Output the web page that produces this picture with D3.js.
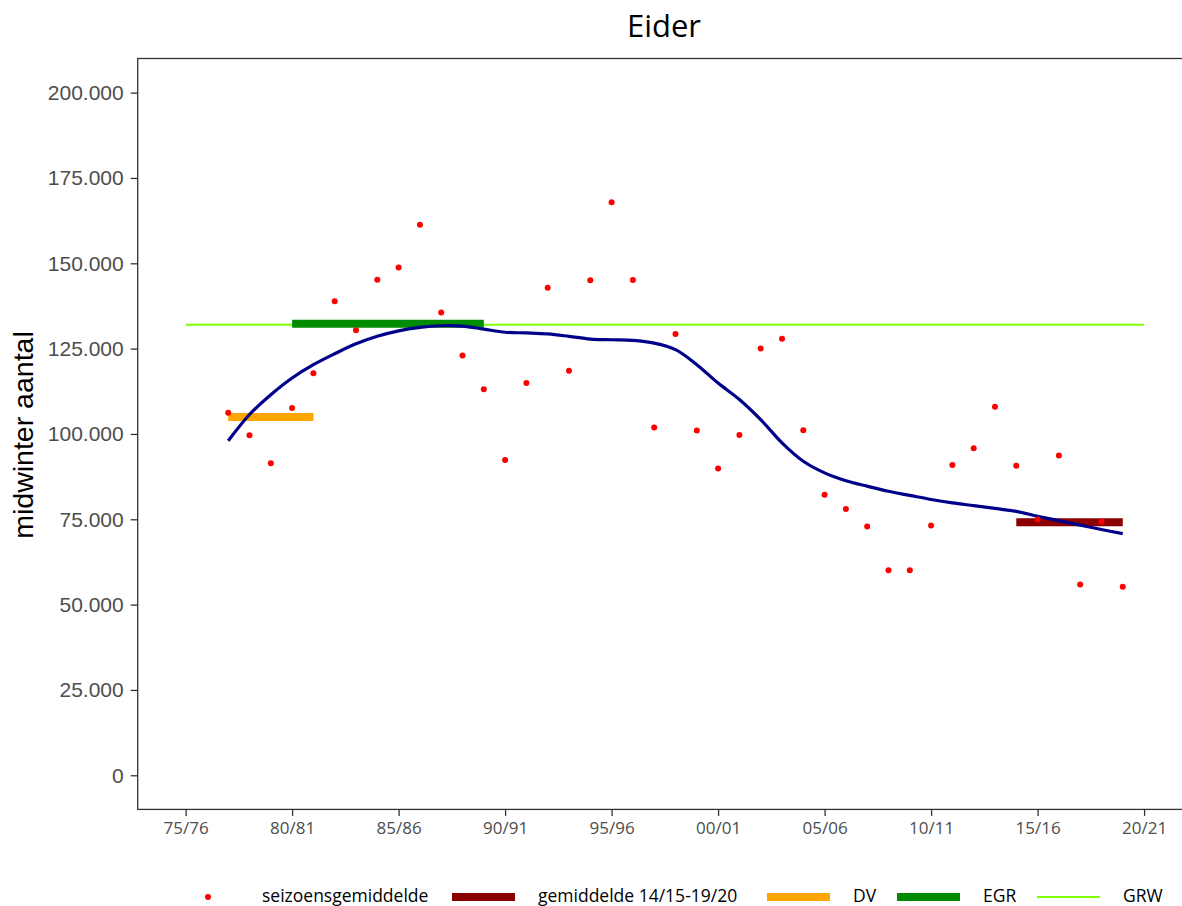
<!DOCTYPE html>
<html>
<head>
<meta charset="utf-8">
<script src="https://cdn.jsdelivr.net/npm/d3@7/dist/d3.min.js"></script>
<style>
  html, body { margin: 0; padding: 0; background: #fff; }
  svg { display: block; }
</style>
</head>
<body>
<svg id="chart" width="1182" height="906"></svg>
<script>
// ---- data ----
const seasons = [1977,1978,1979,1980,1981,1982,1983,1984,1985,1986,1987,1988,1989,1990,1991,1992,1993,1994,1995,1996,1997,1998,1999,2000,2001,2002,2003,2004,2005,2006,2007,2008,2009,2010,2011,2012,2013,2014,2015,2016,2017,2018,2019];
const seasonMeans = [106200,99600,91400,107600,117800,138900,130400,145200,148800,161300,135600,123000,113100,92400,114900,142800,118500,145000,167900,145100,101900,129300,101000,89900,99700,125000,127900,101100,82200,78000,72900,60100,60100,73200,90900,95800,108000,90700,74900,93700,55900,74300,55200];
const trend = [98000,105700,111500,116400,120300,123500,126400,128600,130200,131200,131700,131600,130700,129800,129600,129300,128600,127800,127600,127400,126600,124700,120300,114900,110100,104200,97400,92000,88600,86300,84700,83200,82000,80800,79800,79000,78200,77300,75900,74600,73300,72000,70800];

const refNames = ["gemiddelde 14/15-19/20","DV","EGR"];
const refStart = [2014,1977,1980];
const refEnd   = [2019,1981,1989];
const refValue = [74100,105000,132300];
const refColor = ["#8B0000","#FFA500","#008B00"];

const grwStart = 1975, grwEnd = 2020, grwValue = 132000;

const xTickYears = [1975,1980,1985,1990,1995,2000,2005,2010,2015,2020];
const yTicks = [0,25000,50000,75000,100000,125000,150000,175000,200000];

const legendLabels = ["seizoensgemiddelde","gemiddelde 14/15-19/20","DV","EGR","GRW"];

(function () {
// ---- layout ----
const svg = d3.select("#chart");
const pLeft = 137.7, pRight = 1192, pTop = 58.5, pBottom = 809.4;

const x = d3.scaleLinear().domain([1972.75, 2022.25]).range([pLeft, pRight]);
const y = d3.scaleLinear().domain([-10000, 210000]).range([pBottom, pTop]);

const fmtY = v => d3.format(",")(v).replace(/,/g, ".");
const fmtX = v => { const a = v % 100, b = (v + 1) % 100; return String(a).padStart(2,"0") + "/" + String(b).padStart(2,"0"); };

// GRW line
svg.append("line")
  .attr("x1", x(grwStart)).attr("x2", x(grwEnd))
  .attr("y1", y(grwValue)).attr("y2", y(grwValue))
  .attr("stroke", "#7FFF00").attr("stroke-width", 2);

// reference bars
refNames.forEach((n, i) => {
  svg.append("line")
    .attr("x1", x(refStart[i])).attr("x2", x(refEnd[i]))
    .attr("y1", y(refValue[i])).attr("y2", y(refValue[i]))
    .attr("stroke", refColor[i]).attr("stroke-width", 8);
});

// trend line
const line = d3.line().x((d, i) => x(seasons[i])).y(d => y(d)).curve(d3.curveCatmullRom);
svg.append("path").datum(trend)
  .attr("d", line).attr("fill", "none")
  .attr("stroke", "#00008B").attr("stroke-width", 3.2);

// points
svg.append("g").selectAll("circle").data(seasonMeans).join("circle")
  .attr("cx", (d, i) => x(seasons[i])).attr("cy", d => y(d))
  .attr("r", 3).attr("fill", "#FF0000");

// panel border
svg.append("rect")
  .attr("x", pLeft).attr("y", pTop).attr("width", pRight - pLeft).attr("height", pBottom - pTop)
  .attr("fill", "none").attr("stroke", "#333").attr("stroke-width", 1.3);

// y axis
const yAxis = svg.append("g").attr("transform", `translate(${pLeft},0)`)
  .call(d3.axisLeft(y).tickValues(yTicks).tickFormat(fmtY).tickSize(7).tickPadding(7));
yAxis.select(".domain").remove();
yAxis.selectAll("line").attr("stroke", "#333").attr("stroke-width", 1.3);
yAxis.selectAll("text").attr("fill", "#4d4d4d")
  .style("font-family", "'Liberation Sans', Arial, sans-serif").style("font-size", "21px");

// x axis
const xAxis = svg.append("g").attr("transform", `translate(0,${pBottom})`)
  .call(d3.axisBottom(x).tickValues(xTickYears).tickFormat(fmtX).tickSize(6.5).tickPadding(6));
xAxis.select(".domain").remove();
xAxis.selectAll("line").attr("stroke", "#333").attr("stroke-width", 1.3);
xAxis.selectAll("text").attr("fill", "#4d4d4d")
  .style("font-family", "'Open Sans', sans-serif").style("font-size", "17px");

// title
svg.append("text").attr("x", 664).attr("y", 37).attr("text-anchor", "middle")
  .style("font-family", "'Open Sans', sans-serif").style("font-size", "31px").attr("fill", "#000")
  .text("Eider");

// y label
svg.append("text").attr("transform", "translate(33,435) rotate(-90)").attr("text-anchor", "middle")
  .style("font-family", "'Liberation Sans', Arial, sans-serif").style("font-size", "28.5px").attr("fill", "#000")
  .text("midwinter aantal");

// legend
const legY = 897;
const lg = svg.append("g");
const keyX = [208, 452, 767, 897, 1037];
const textX = [262, 538, 853, 983, 1123];
const keyKinds = ["dot", "bar", "bar", "bar", "line"];
const keyColors = ["#FF0000", refColor[0], refColor[1], refColor[2], "#7FFF00"];
legendLabels.forEach((lab, i) => {
  if (keyKinds[i] === "dot") {
    lg.append("circle").attr("cx", keyX[i]).attr("cy", legY).attr("r", 3).attr("fill", keyColors[i]);
  } else {
    lg.append("line").attr("x1", keyX[i]).attr("x2", keyX[i] + 63)
      .attr("y1", legY).attr("y2", legY)
      .attr("stroke", keyColors[i]).attr("stroke-width", keyKinds[i] === "bar" ? 8 : 2);
  }
  lg.append("text").attr("x", textX[i]).attr("y", 901.5)
    .style("font-family", "'Open Sans', sans-serif").style("font-size", "17.5px").attr("fill", "#000")
    .text(lab);
});
})();
</script>
</body>
</html>
